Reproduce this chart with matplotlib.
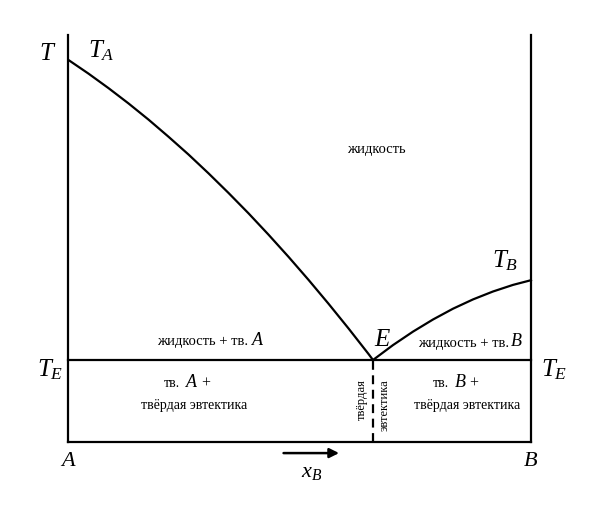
import matplotlib.pyplot as plt

plt.rcParams['font.family'] = ['Liberation Serif', 'DejaVu Serif']
plt.rcParams['mathtext.fontset'] = 'custom'
plt.rcParams['mathtext.it'] = 'Liberation Serif:italic'
plt.rcParams['mathtext.rm'] = 'Liberation Serif'

# liquidus of A (composition x_B, temperature in arbitrary units)
xa = [0.0, 0.0432, 0.0865, 0.1297, 0.1730, 0.2162, 0.2595, 0.3027, 0.3459,
      0.3892, 0.4324, 0.4757, 0.5189, 0.5622, 0.6054, 0.6486, 0.6584]
ta = [100, 96.44, 92.64, 88.64, 84.40, 79.92, 75.26, 70.34, 65.21,
      59.87, 54.29, 48.48, 42.46, 36.20, 29.74, 23.06, 21.47]
# liquidus of B
xb = [0.6584, 0.7016, 0.7449, 0.7881, 0.8314, 0.8746, 0.9178, 0.9611, 1.0]
tb = [21.47, 25.37, 28.90, 32.07, 34.90, 37.33, 39.40, 41.13, 42.36]

T_E = 21.47
x_E = 0.6584
T_top = 106.5

fig = plt.figure(figsize=(6, 5.17), dpi=100)
ax = fig.add_axes([0, 0, 1, 1])
ax.set_xlim(-0.1481, 1.1492)
ax.set_ylim(-19.63, 115.71)
ax.axis('off')

lw = 1.6
ax.plot([0, 0], [0, T_top], color='black', lw=lw)
ax.plot([1, 1], [0, T_top], color='black', lw=lw)
ax.plot([0, 1], [0, 0], color='black', lw=lw)
ax.plot([0, 1], [T_E, T_E], color='black', lw=lw)
ax.plot(xa, ta, color='black', lw=lw, solid_joinstyle='round')
ax.plot(xb, tb, color='black', lw=lw, solid_joinstyle='round')
ax.plot([x_E, x_E], [0, T_E], color='black', lw=lw, ls=(0, (4, 2.5)))

big = 18
small = 10
ax.text(-0.045, 101.5, r'$T$', fontsize=big, ha='center', va='center')
ax.text(0.07, 102.5, r'$T_A$', fontsize=big, ha='center', va='center')
ax.text(0.945, 47.5, r'$T_B$', fontsize=big, ha='center', va='center')
ax.text(0.68, 26.8, r'$E$', fontsize=big, ha='center', va='center')
ax.text(-0.04, 19.0, r'$T_E$', fontsize=big, ha='center', va='center')
ax.text(1.05, 19.0, r'$T_E$', fontsize=big, ha='center', va='center')
ax.text(0.0, -5.2, r'$A$', fontsize=16, ha='center', va='center')
ax.text(1.0, -5.2, r'$B$', fontsize=16, ha='center', va='center')
ax.text(0.525, -8.0, r'$x_B$', fontsize=16, ha='center', va='center')
ax.annotate('', xy=(0.585, -2.9), xytext=(0.465, -2.9),
            arrowprops=dict(arrowstyle='-|>', color='black', lw=1.8,
                            mutation_scale=14, shrinkA=0, shrinkB=0))

ax.text(0.665, 76.5, 'жидкость', fontsize=10.5, ha='center', va='center')
ax.text(0.388, 26.3, 'жидкость + тв.', fontsize=10.5, ha='right', va='center')
ax.text(0.41, 26.6, r'$A$', fontsize=13, ha='center', va='center')
ax.text(0.952, 25.9, 'жидкость + тв.', fontsize=10.5, ha='right', va='center')
ax.text(0.968, 26.2, r'$B$', fontsize=13, ha='center', va='center')

ax.text(0.224, 15.3, 'тв.', fontsize=small, ha='center', va='center')
ax.text(0.268, 15.6, r'$A$', fontsize=13, ha='center', va='center')
ax.text(0.297, 15.4, '+', fontsize=11.5, ha='center', va='center')
ax.text(0.272, 9.5, 'твёрдая эвтектика', fontsize=small, ha='center', va='center')
ax.text(0.805, 15.3, 'тв.', fontsize=small, ha='center', va='center')
ax.text(0.848, 15.6, r'$B$', fontsize=13, ha='center', va='center')
ax.text(0.877, 15.4, '+', fontsize=11.5, ha='center', va='center')
ax.text(0.862, 9.5, 'твёрдая эвтектика', fontsize=small, ha='center', va='center')

ax.text(0.635, 16.5, 'твёрдая', fontsize=9, ha='center', va='top', rotation=90)
ax.text(0.683, 16.5, 'эвтектика', fontsize=9, ha='center', va='top', rotation=90)

fig.savefig('out.png', dpi=100)
